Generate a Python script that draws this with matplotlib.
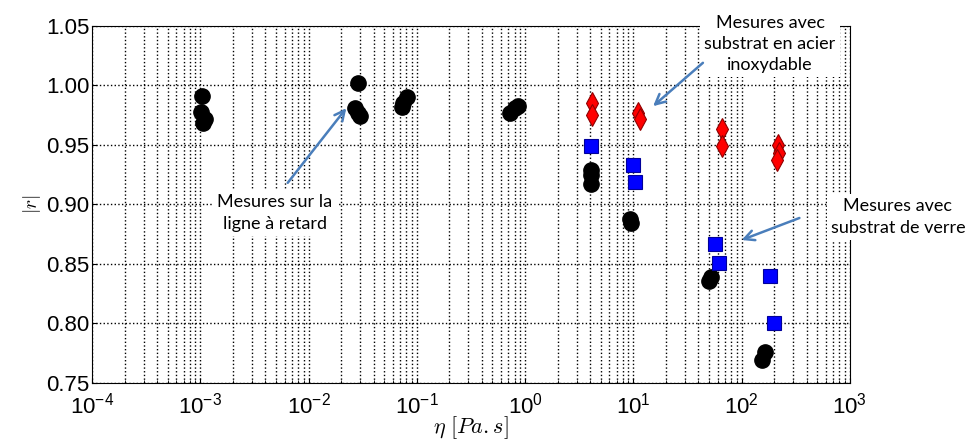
import matplotlib
matplotlib.use("Agg")
import matplotlib.pyplot as plt

# Mesures sur la ligne a retard (black circles)
eta_ligne = [1.03e-3, 1.02e-3, 1.10e-3, 1.05e-3,
             0.0286, 0.0270, 0.0300, 0.0285,
             0.0724, 0.0805, 0.0750,
             0.72, 0.80, 0.86,
             4.05, 4.10, 4.10,
             9.3, 9.5,
             52.5, 50.5,
             164, 155]
r_ligne = [0.991, 0.978, 0.972, 0.968,
           1.002, 0.981, 0.974, 0.977,
           0.982, 0.990, 0.985,
           0.977, 0.981, 0.983,
           0.929, 0.925, 0.917,
           0.888, 0.884,
           0.839, 0.836,
           0.776, 0.769]

# Mesures avec substrat de verre (blue squares)
eta_verre = [4.1, 10.0, 10.3, 57.4, 61.5, 182, 198]
r_verre = [0.949, 0.933, 0.919, 0.867, 0.851, 0.840, 0.800]

# Mesures avec substrat en acier inoxydable (red diamonds)
eta_acier = [4.15, 4.15, 11.0, 11.5, 65.6, 65.6, 216, 220, 214]
r_acier = [0.985, 0.975, 0.977, 0.972, 0.963, 0.949, 0.950, 0.943, 0.937]

xticks = [1e-4, 1e-3, 1e-2, 1e-1, 1e0, 1e1, 1e2, 1e3]
xtick_labels = [r"$10^{-4}$", r"$10^{-3}$", r"$10^{-2}$", r"$10^{-1}$",
                r"$10^{0}$", r"$10^{1}$", r"$10^{2}$", r"$10^{3}$"]
yticks = [0.75, 0.80, 0.85, 0.90, 0.95, 1.00, 1.05]

plt.rcParams['font.family'] = ['Liberation Sans', 'DejaVu Sans']
plt.rcParams['mathtext.fontset'] = 'custom'
plt.rcParams['mathtext.rm'] = 'Liberation Sans'
plt.rcParams['mathtext.it'] = 'Liberation Sans:italic'

fig = plt.figure(figsize=(9.79, 4.41), dpi=100)
ax = fig.add_axes([0.094, 0.1315, 0.774, 0.81])

ax.plot(eta_ligne, r_ligne, 'o', color='k', ms=11, mec='k', zorder=3)
ax.plot(eta_verre, r_verre, 's', color='#0000ff', ms=10, mec='#00009a', mew=0.8, zorder=3)
ax.plot(eta_acier, r_acier, 'd', color='#ff0000', ms=11, mec='#900000', mew=0.8, zorder=3)

ax.set_xscale('log')
ax.set_xlim(1e-4, 1e3)
ax.set_ylim(0.75, 1.05)
ax.set_xticks(xticks)
ax.set_xticklabels(xtick_labels, fontsize=16)
ax.set_yticks(yticks)
ax.set_yticklabels(["%.2f" % v for v in yticks], fontsize=16)
ax.tick_params(which='both', direction='in')
ax.tick_params(axis='x', pad=7)
ax.tick_params(axis='y', pad=2)
ax.grid(True, which='major', linestyle=':', color='k', lw=1.0)
ax.grid(True, which='minor', axis='x', linestyle=':', color='k', lw=1.0)
ax.set_axisbelow(True)

ax.set_xlabel(r"$\eta\ [Pa{.}s]$", fontsize=16, labelpad=-3, math_fontfamily='cm')
ax.set_ylabel(r"$|r|$", fontsize=14, labelpad=2, math_fontfamily='cm')

box = dict(facecolor='white', edgecolor='none', pad=3)
txt_font = dict(family=['Lato', 'DejaVu Sans'], fontsize=13, ha='center', va='center',
                linespacing=1.4, bbox=box, annotation_clip=False)
arrow = dict(arrowstyle='->', color='#4a7ebb', lw=1.8, mutation_scale=18)

# annotations placed in figure pixel coordinates (origin lower left)
W, H = 979, 441
ax.annotate("Mesures sur la\nligne à retard",
            xy=(275 / W, 1 - 213 / H), xycoords='figure fraction', **txt_font)
ax.annotate("", xy=(348 / W, 1 - 106 / H), xycoords='figure fraction',
            xytext=(286 / W, 1 - 185 / H), textcoords='figure fraction',
            arrowprops=arrow)
ax.annotate("Mesures avec\nsubstrat en acier\ninoxydable",
            xy=(770 / W, 1 - 44 / H), xycoords='figure fraction', **txt_font)
ax.annotate("", xy=(651 / W, 1 - 108 / H), xycoords='figure fraction',
            xytext=(705 / W, 1 - 61 / H), textcoords='figure fraction',
            arrowprops=arrow)
ax.annotate("Mesures avec\nsubstrat de verre",
            xy=(898 / W, 1 - 217 / H), xycoords='figure fraction', **txt_font)
ax.annotate("", xy=(739 / W, 1 - 241 / H), xycoords='figure fraction',
            xytext=(802 / W, 1 - 217 / H), textcoords='figure fraction',
            arrowprops=arrow)

fig.savefig("out.png", dpi=100)
